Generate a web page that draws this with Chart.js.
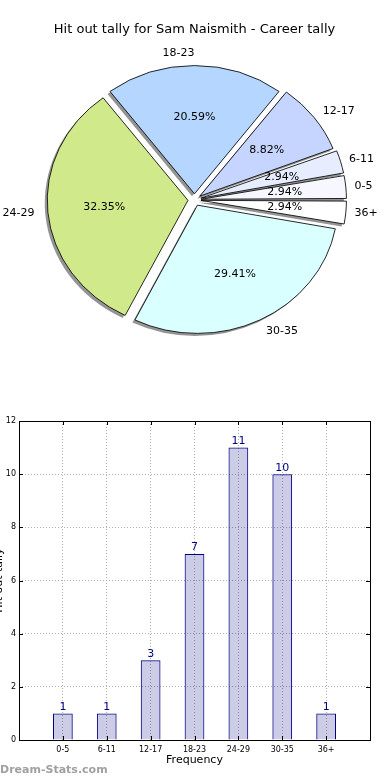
<!DOCTYPE html>
<html lang="en">
<head>
<meta charset="UTF-8">
<title>Hit out tally - Sam Naismith</title>
<script src="https://cdn.jsdelivr.net/npm/chart.js@4.4.0/dist/chart.umd.min.js"></script>
<style>
  body { margin: 0; background: #fff; }
  .page { position: relative; width: 390px; height: 780px; overflow: hidden; font-family: "DejaVu Sans", sans-serif; }
  #pieChart { position: absolute; left: 0; top: 0; }
  #barChart { position: absolute; left: 0; top: 390px; }
  .mark { position: absolute; left: 0; top: 763px; font-size: 11px; font-weight: bold; color: #a0a0a0; }
</style>
</head>
<body>
<div class="page">
  <canvas id="pieChart" width="390" height="390"></canvas>
  <canvas id="barChart" width="390" height="390"></canvas>
  <div class="mark">Dream-Stats.com</div>
</div>
<script>
const categories = ["0-5", "6-11", "12-17", "18-23", "24-29", "30-35", "36+"];
const tally = [1, 1, 3, 7, 11, 10, 1];
const sliceColours = ["#f7f8ff", "#e6edff", "#c6d5ff", "#b4d6ff", "#cfe98b", "#d9ffff", "#ffffff"];
const yTicks = [0, 2, 4, 6, 8, 10, 12];

Chart.defaults.font.family = "'DejaVu Sans', sans-serif";
Chart.defaults.color = "#000";

const total = tally.reduce((a, b) => a + b, 0);
const stretch = 1.094; // the original pie is not drawn with equal axes, so it is a bit wider than tall

// matplotlib goes anticlockwise from 3 o'clock, chart.js clockwise -> reverse the order
const pieLabels = categories.slice().reverse();
const pieValues = tally.slice().reverse();
const pieColours = sliceColours.slice().reverse();

const pieLook = {
  id: "pieLook",
  beforeDatasetsDraw(chart) {
    const ctx = chart.ctx;
    const arcs = chart.getDatasetMeta(0).data;
    const cx = arcs[0].x;
    ctx.save();
    ctx.translate(cx, 0);
    ctx.scale(stretch, 1);
    ctx.translate(-cx, 0);
    // grey shadow pass, shifted left/down, before the real wedges
    ctx.save();
    ctx.translate(-2.5 / stretch, 2.5);
    arcs.forEach(arc => {
      const saved = arc.options;
      arc.options = Object.assign({}, saved, { backgroundColor: "rgba(0,0,0,0.42)", borderWidth: 0 });
      arc.draw(ctx);
      arc.options = saved;
    });
    ctx.restore();
  },
  afterDatasetsDraw(chart) {
    const ctx = chart.ctx;
    ctx.restore();
    const meta = chart.getDatasetMeta(0);
    ctx.save();
    ctx.font = "11px 'DejaVu Sans'";
    ctx.fillStyle = "#000";
    ctx.textBaseline = "middle";
    meta.data.forEach((arc, i) => {
      const p = arc.getProps(["x", "y", "startAngle", "endAngle", "outerRadius"], true);
      const mid = (p.startAngle + p.endAngle) / 2;
      const cos = Math.cos(mid), sin = Math.sin(mid);
      const off = arc.options.offset / 4;
      const cx = p.x + cos * off * stretch, cy = p.y + sin * off;
      ctx.textAlign = cos > 0 ? "left" : "right";
      ctx.fillText(pieLabels[i], cx + cos * p.outerRadius * 1.1 * stretch, cy + sin * p.outerRadius * 1.1);
      ctx.textAlign = "center";
      ctx.fillText((pieValues[i] / total * 100).toFixed(2) + "%", cx + cos * p.outerRadius * 0.6 * stretch, cy + sin * p.outerRadius * 0.6);
    });
    ctx.restore();
  }
};

new Chart("pieChart", {
  type: "pie",
  data: {
    labels: pieLabels,
    datasets: [{
      data: pieValues,
      backgroundColor: pieColours,
      borderColor: "#000",
      borderWidth: 0.8,
      offset: 24
    }]
  },
  options: {
    responsive: false,
    animation: false,
    rotation: 90,
    radius: 128,
    layout: { padding: { left: 0, right: 1, top: 0, bottom: 38 } },
    plugins: {
      legend: { display: false },
      tooltip: { enabled: false },
      title: {
        display: true,
        text: "Hit out tally for Sam Naismith - Career tally",
        color: "#000",
        font: { size: 13, weight: "normal" },
        padding: { top: 22, bottom: 10 }
      }
    }
  },
  plugins: [pieLook]
});

const barExtras = {
  id: "barExtras",
  afterDatasetsDraw(chart) {
    const ctx = chart.ctx;
    const area = chart.chartArea;
    const xs = chart.scales.x, ys = chart.scales.y;
    ctx.save();
    // value above each bar
    ctx.font = "11px 'DejaVu Sans'";
    ctx.fillStyle = "#000080";
    ctx.textAlign = "center";
    ctx.textBaseline = "bottom";
    chart.getDatasetMeta(0).data.forEach((bar, i) => {
      const v = chart.data.datasets[0].data[i];
      if (v == null) return;
      ctx.fillText(String(v), bar.x, bar.y - 1);
    });
    // inward tick marks on all four sides
    ctx.strokeStyle = "#000";
    ctx.lineWidth = 1;
    ctx.beginPath();
    categories.forEach((c, i) => {
      const px = Math.round(xs.getPixelForValue(i + 1)) + 0.5;
      ctx.moveTo(px, area.bottom); ctx.lineTo(px, area.bottom - 4);
      ctx.moveTo(px, area.top); ctx.lineTo(px, area.top + 4);
    });
    yTicks.forEach(t => {
      const py = Math.round(ys.getPixelForValue(t)) + 0.5;
      ctx.moveTo(area.left, py); ctx.lineTo(area.left + 4, py);
      ctx.moveTo(area.right, py); ctx.lineTo(area.right - 4, py);
    });
    ctx.stroke();
    // axes box
    ctx.strokeRect(Math.round(area.left) + 0.5, Math.round(area.top) + 0.5,
                   Math.round(area.right - area.left), Math.round(area.bottom - area.top));
    // y title, clipped at the left edge like the original
    ctx.translate(-1, (area.top + area.bottom) / 2);
    ctx.rotate(-Math.PI / 2);
    ctx.font = "11px 'DejaVu Sans'";
    ctx.fillStyle = "#000";
    ctx.textAlign = "center";
    ctx.textBaseline = "middle";
    ctx.fillText("Hit out tally", 0, 0);
    ctx.restore();
  }
};

new Chart("barChart", {
  type: "bar",
  data: {
    labels: ["", ...categories, ""],
    datasets: [{
      data: [null, ...tally, null],
      backgroundColor: "rgba(0,0,128,0.2)",
      borderColor: "#000080",
      borderWidth: 1,
      barPercentage: 0.45,
      categoryPercentage: 1
    }]
  },
  options: {
    responsive: false,
    animation: false,
    layout: { padding: { left: 0, right: 20, top: 31, bottom: 0 } },
    plugins: { legend: { display: false }, tooltip: { enabled: false } },
    scales: {
      x: {
        offset: false,
        grid: { offset: false, color: "#b0b0b0", drawTicks: false },
        border: { display: false, dash: [1, 2] },
        ticks: { font: { size: 8 }, color: "#000", padding: 5, autoSkip: false, maxRotation: 0 },
        title: { display: true, text: "Frequency", color: "#000", font: { size: 11 }, padding: { top: 0, bottom: 13 } },
        afterFit(scale) { scale.height = 40; }
      },
      y: {
        min: 0,
        max: 12,
        grid: { color: "#b0b0b0", drawTicks: false },
        border: { display: false, dash: [1, 2] },
        ticks: { stepSize: 2, font: { size: 8 }, color: "#000", padding: 3 },
        afterFit(scale) { scale.width = 19; }
      }
    }
  },
  plugins: [barExtras]
});
</script>
</body>
</html>
